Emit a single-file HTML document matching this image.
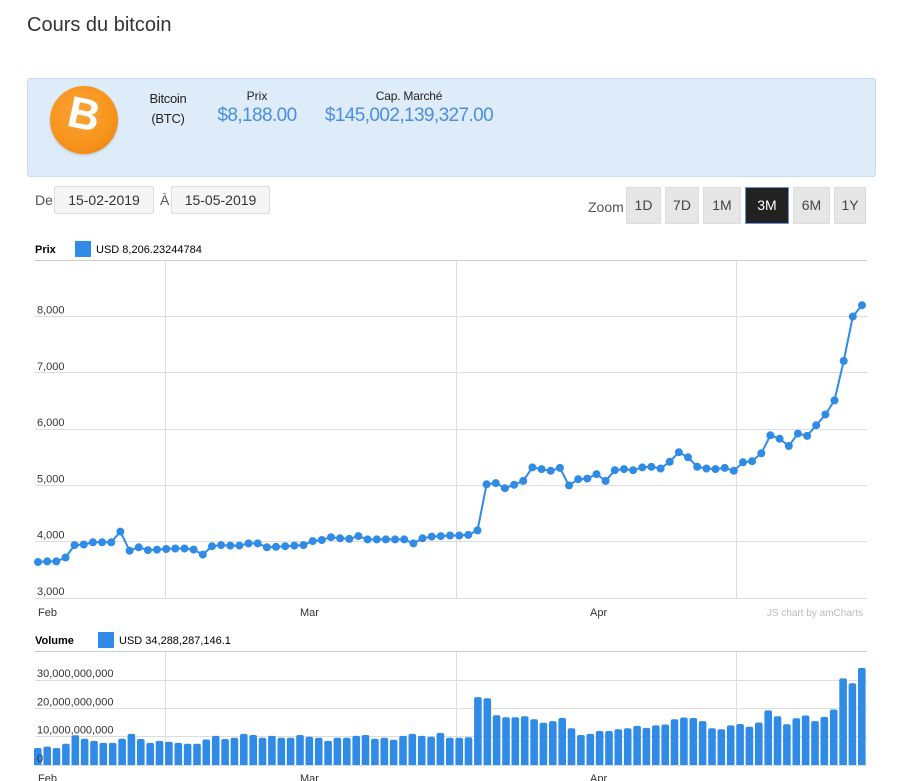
<!DOCTYPE html>
<html><head><meta charset="utf-8"><style>
body{margin:0;width:900px;height:781px;overflow:hidden;background:#fff;font-family:"Liberation Sans",sans-serif;color:#222;position:relative}
.a{position:absolute;white-space:nowrap}
.box{position:absolute;background:#f5f5f5;border:1px solid #ddd;border-radius:2px;font-size:14px;color:#333;text-align:center;box-sizing:border-box}
.btn{position:absolute;top:187px;height:37px;background:#e6e6e6;border:1px solid #ddd;box-sizing:border-box;font-size:14px;color:#444;text-align:center;line-height:35px}
</style></head><body>
<div class="a" style="left:27px;top:14px;font-size:20px;color:#333">Cours du bitcoin</div>
<div class="a" style="left:27px;top:78px;width:849px;height:99px;background:#deebf9;border:1px solid #c9dcf1;border-radius:3px;box-sizing:border-box"></div>
<div class="a" style="left:50px;top:86px;width:68px;height:68px;border-radius:50%;background:radial-gradient(circle at 45% 40%,#fba53a,#f7931a 60%,#e27c0c);box-shadow:0 1px 2px rgba(0,0,0,.2)"></div>
<div class="a" style="left:50px;top:90px;width:68px;text-align:center;font-size:44px;font-weight:bold;color:#fff;transform:rotate(12deg)">B</div>
<div class="a" style="left:138px;top:89px;width:60px;text-align:center;font-size:13px;line-height:20px;letter-spacing:-0.3px">Bitcoin<br>(BTC)</div>
<div class="a" style="left:207px;top:89px;width:100px;text-align:center;font-size:12px">Prix</div>
<div class="a" style="left:207px;top:105px;width:100px;text-align:center;font-size:19px;color:#4a8ee0;letter-spacing:-0.6px">$8,188.00</div>
<div class="a" style="left:309px;top:89px;width:200px;text-align:center;font-size:12px;letter-spacing:-0.2px">Cap. Marché</div>
<div class="a" style="left:309px;top:105px;width:200px;text-align:center;font-size:19px;color:#4a8ee0;letter-spacing:-0.6px">$145,002,139,327.00</div>
<div class="a" style="left:35px;top:192px;font-size:14px;color:#555">De</div>
<div class="box" style="left:54px;top:186px;width:100px;height:28px;line-height:26px">15-02-2019</div>
<div class="a" style="left:160px;top:192px;font-size:14px;color:#555">À</div>
<div class="box" style="left:171px;top:186px;width:99px;height:28px;line-height:26px">15-05-2019</div>
<div class="a" style="left:588px;top:199px;font-size:14px;color:#555">Zoom</div>
<div class="btn" style="left:626px;width:35px">1D</div>
<div class="btn" style="left:665px;width:34px">7D</div>
<div class="btn" style="left:703px;width:38px">1M</div>
<div class="btn" style="left:745px;width:44px;background:#222;color:#fff;border:1px solid #6a8ee0">3M</div>
<div class="btn" style="left:793px;width:37px">6M</div>
<div class="btn" style="left:834px;width:32px">1Y</div>
<svg id="s" class="a" style="left:0;top:0" width="900" height="781" font-family="Liberation Sans,sans-serif"></svg>
<script>
var p=[3640,3650,3650,3720,3940,3950,3990,3990,3990,4180,3840,3900,3850,3860,3870,3880,3880,3860,3770,3920,3940,3930,3930,3970,3970,3900,3910,3920,3930,3940,4010,4030,4080,4060,4050,4100,4040,4040,4040,4040,4040,3970,4060,4090,4100,4110,4110,4120,4200,5020,5040,4950,5010,5080,5320,5290,5260,5310,5000,5110,5120,5200,5080,5270,5290,5270,5320,5330,5300,5420,5590,5500,5330,5300,5290,5310,5260,5410,5430,5570,5890,5830,5700,5920,5880,6070,6260,6510,7210,8000,8200];
var v=[6,6.5,6,7.5,10.5,9.3,8.5,7.8,7.8,9.3,11,9.2,7.8,8.5,8.2,7.8,7.5,7.5,9,10.3,9.2,9.6,11,10.6,9.6,10.3,9.6,9.6,10.6,10,9.6,8.5,9.6,9.6,10.3,10.6,9.3,9.6,8.9,10.3,11,10.3,10,11.3,9.6,9.6,9.8,24,23.6,17.6,16.9,16.9,17.2,16.2,14.9,15.5,16.6,13,10.6,11,12,12,12.6,13,13.8,13.1,14,14.3,16.2,16.8,16.6,15.5,13,12.6,14,14.5,13.5,15,19.3,17.2,14.4,16.5,17.5,15.5,17,19.6,30.6,28.9,34.3];
var h='';
h+='<text x="35" y="253" font-size="11" font-weight="bold" fill="#000">Prix</text><rect x="75" y="241" width="16" height="16" fill="#2f8be6"/><text x="96" y="253" font-size="11" fill="#000">USD  8,206.23244784</text>';
h+='<line x1="35" y1="260.5" x2="867" y2="260.5" stroke="#ccc"/>';
[3000,4000,5000,6000,7000,8000].forEach(function(k){var y=598-(k-3000)*0.0563;h+='<line x1="35" y1="'+(y|0)+'.5" x2="867" y2="'+(y|0)+'.5" stroke="#ddd"/><text x="37" y="'+(y-3)+'" font-size="11" fill="#333">'+k.toLocaleString('en-US')+'</text>';});
[165,456,736].forEach(function(x){h+='<line x1="'+x+'.5" y1="260" x2="'+x+'.5" y2="598" stroke="#ddd"/><line x1="'+x+'.5" y1="651" x2="'+x+'.5" y2="765" stroke="#ddd"/>';});
h+='<text x="38" y="616" font-size="11" fill="#333">Feb</text><text x="300" y="616" font-size="11" fill="#333">Mar</text><text x="590" y="616" font-size="11" fill="#333">Apr</text><text x="863" y="616" font-size="10" fill="#bbb" text-anchor="end">JS chart by amCharts</text>';
var n=p.length,dx=(862-38)/(n-1),pts=[];
for(var i=0;i<n;i++){pts.push((38+i*dx).toFixed(1)+','+(598-(p[i]-3000)*0.0563).toFixed(1));}
h+='<polyline points="'+pts.join(' ')+'" fill="none" stroke="#2f8be6" stroke-width="2"/>';
pts.forEach(function(q){var c=q.split(',');h+='<circle cx="'+c[0]+'" cy="'+c[1]+'" r="4" fill="#2f8be6"/>';});
h+='<text x="35" y="644" font-size="11" font-weight="bold" fill="#000">Volume</text><rect x="98" y="632" width="16" height="16" fill="#2f8be6"/><text x="119" y="644" font-size="11" fill="#000">USD  34,288,287,146.1</text>';
h+='<line x1="35" y1="651.5" x2="867" y2="651.5" stroke="#ccc"/>';
[0,10,20,30].forEach(function(k){var y=765-k*2.83;h+='<line x1="35" y1="'+(y|0)+'.5" x2="867" y2="'+(y|0)+'.5" stroke="#ddd"/>';});
var m=v.length,bx=(862-38)/(m-1);
for(var i=0;i<m;i++){var bh=v[i]*2.83,x=38+i*bx-4;h+='<path d="M'+x.toFixed(1)+' 765V'+(765-bh+2).toFixed(1)+'q0 -2 2 -2h3.6q2 0 2 2V765z" fill="#2f8be6"/>';}
[0,10,20,30].forEach(function(k){var y=765-k*2.83;h+='<text x="37" y="'+(y-3)+'" font-size="11" fill="#333">'+(k?k+',000,000,000':'0')+'</text>';});
h+='<text x="38" y="782" font-size="11" fill="#333">Feb</text><text x="300" y="782" font-size="11" fill="#333">Mar</text><text x="590" y="782" font-size="11" fill="#333">Apr</text>';
document.getElementById('s').innerHTML=h;
</script>
</body></html>
